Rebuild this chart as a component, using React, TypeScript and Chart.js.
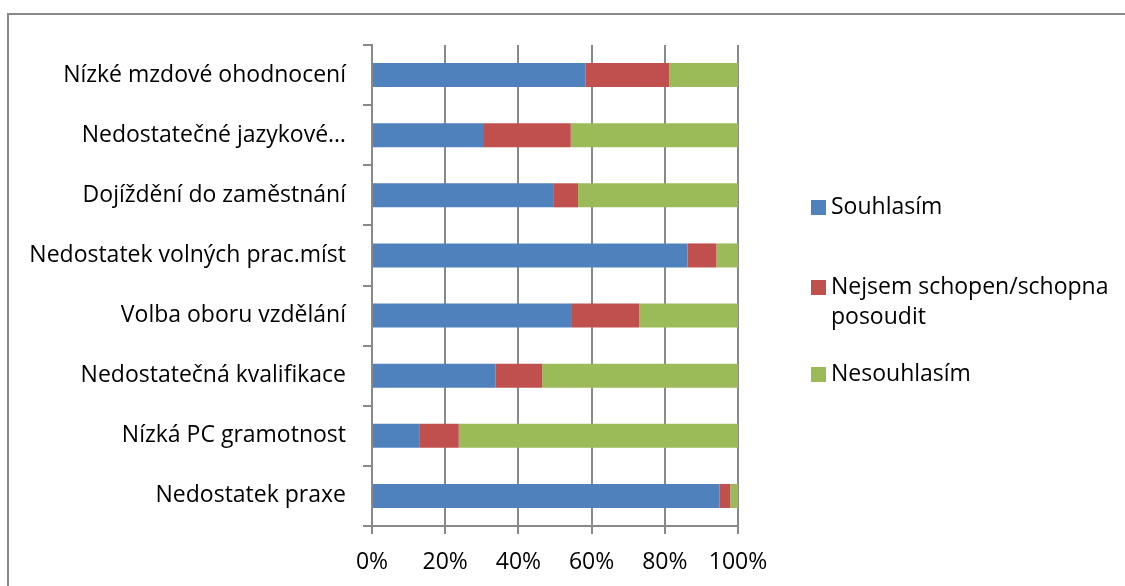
import React, { useEffect, useRef } from "react";
import { Chart, registerables } from "chart.js";

Chart.register(...registerables);

// Reasons, listed top to bottom
const categories = [
  "Nízké mzdové ohodnocení",
  "Nedostatečné jazykové…",
  "Dojíždění do zaměstnání",
  "Nedostatek volných prac.míst",
  "Volba oboru vzdělání",
  "Nedostatečná kvalifikace",
  "Nízká PC gramotnost",
  "Nedostatek praxe",
];

// Share of answers (%) per reason
const souhlasim = [58.3, 30.6, 49.5, 86.2, 54.4, 33.7, 12.9, 95.0];
const nejsemSchopen = [22.9, 23.7, 6.8, 7.9, 18.6, 12.8, 10.8, 2.9];
const nesouhlasim = [18.8, 45.7, 43.7, 5.9, 27.0, 53.5, 76.3, 2.1];

const seriesLabels = ["Souhlasím", "Nejsem schopen/schopna posoudit", "Nesouhlasím"];
const legendLines = [["Souhlasím"], ["Nejsem schopen/schopna", "posoudit"], ["Nesouhlasím"]];
const seriesColors = ["#4F81BD", "#C0504D", "#9BBB59"];

const axisMin = 0;
const axisMax = 100;
const axisStep = 20;

const FONT_FAMILY = "'Open Sans', 'Noto Sans', sans-serif";
const FONT_SIZE = 23;
const AXIS_GREY = "#898989";

// Legend on the right, drawn with wrapped text
const sideLegend = {
  id: "sideLegend",
  afterDraw(chart: any) {
    const { ctx } = chart;
    const x = 811;
    const box = 15;
    const lineH = 30;
    const centers = [207.5, 287.5, 374.5];
    ctx.save();
    ctx.font = `${FONT_SIZE}px ${FONT_FAMILY}`;
    ctx.textBaseline = "middle";
    ctx.textAlign = "left";
    legendLines.forEach((lines, i) => {
      const cy = centers[i];
      ctx.fillStyle = seriesColors[i];
      ctx.fillRect(x, cy - box / 2, box, box);
      ctx.fillStyle = "#000";
      lines.forEach((t, j) => {
        ctx.fillText(t, x + box + 5, cy + j * lineH);
      });
    });
    ctx.restore();
  },
};

export default function App() {
  const canvasRef = useRef<HTMLCanvasElement | null>(null);

  useEffect(() => {
    const canvas = canvasRef.current;
    if (!canvas) return;
    const font = { family: FONT_FAMILY, size: FONT_SIZE };
    const values = [souhlasim, nejsemSchopen, nesouhlasim];
    const chart = new Chart(canvas, {
      type: "bar",
      data: {
        labels: categories,
        datasets: seriesLabels.map((label, i) => ({
          label,
          data: values[i],
          backgroundColor: seriesColors[i],
          borderWidth: 0,
          barPercentage: 0.4,
          categoryPercentage: 1,
        })),
      },
      options: {
        indexAxis: "y",
        animation: false,
        responsive: false,
        maintainAspectRatio: false,
        devicePixelRatio: 1,
        layout: { padding: { top: 45, right: 387, left: 0, bottom: 0 } },
        plugins: {
          legend: { display: false },
          tooltip: { enabled: false },
        },
        scales: {
          x: {
            stacked: true,
            min: axisMin,
            max: axisMax,
            ticks: {
              stepSize: axisStep,
              callback: (v: any) => `${v}%`,
              font,
              color: "#000",
              padding: 15,
              maxRotation: 0,
            },
            grid: { color: AXIS_GREY, lineWidth: 2, tickLength: 8 },
            border: { color: AXIS_GREY, width: 2 },
            afterFit: (s: any) => {
              s.height = 60;
            },
          },
          y: {
            stacked: true,
            ticks: { font, color: "#000", padding: 17, autoSkip: false },
            grid: {
              drawOnChartArea: false,
              color: AXIS_GREY,
              lineWidth: 2,
              tickLength: 9,
              offset: true,
            },
            border: { color: AXIS_GREY, width: 2 },
            afterFit: (s: any) => {
              s.width = 372;
            },
          },
        },
      },
      plugins: [sideLegend],
    });
    return () => chart.destroy();
  }, []);

  return (
    <div
      style={{
        position: "absolute",
        left: 0,
        top: 0,
        width: 1125,
        height: 586,
        overflow: "hidden",
        background: "#fff",
      }}
    >
      <div
        style={{
          position: "absolute",
          left: 7,
          top: 13,
          width: 1300,
          height: 800,
          border: `2px solid ${AXIS_GREY}`,
        }}
      />
      <canvas
        ref={canvasRef}
        width={1125}
        height={586}
        style={{ position: "absolute", left: 0, top: 0, width: 1125, height: 586 }}
      />
    </div>
  );
}
